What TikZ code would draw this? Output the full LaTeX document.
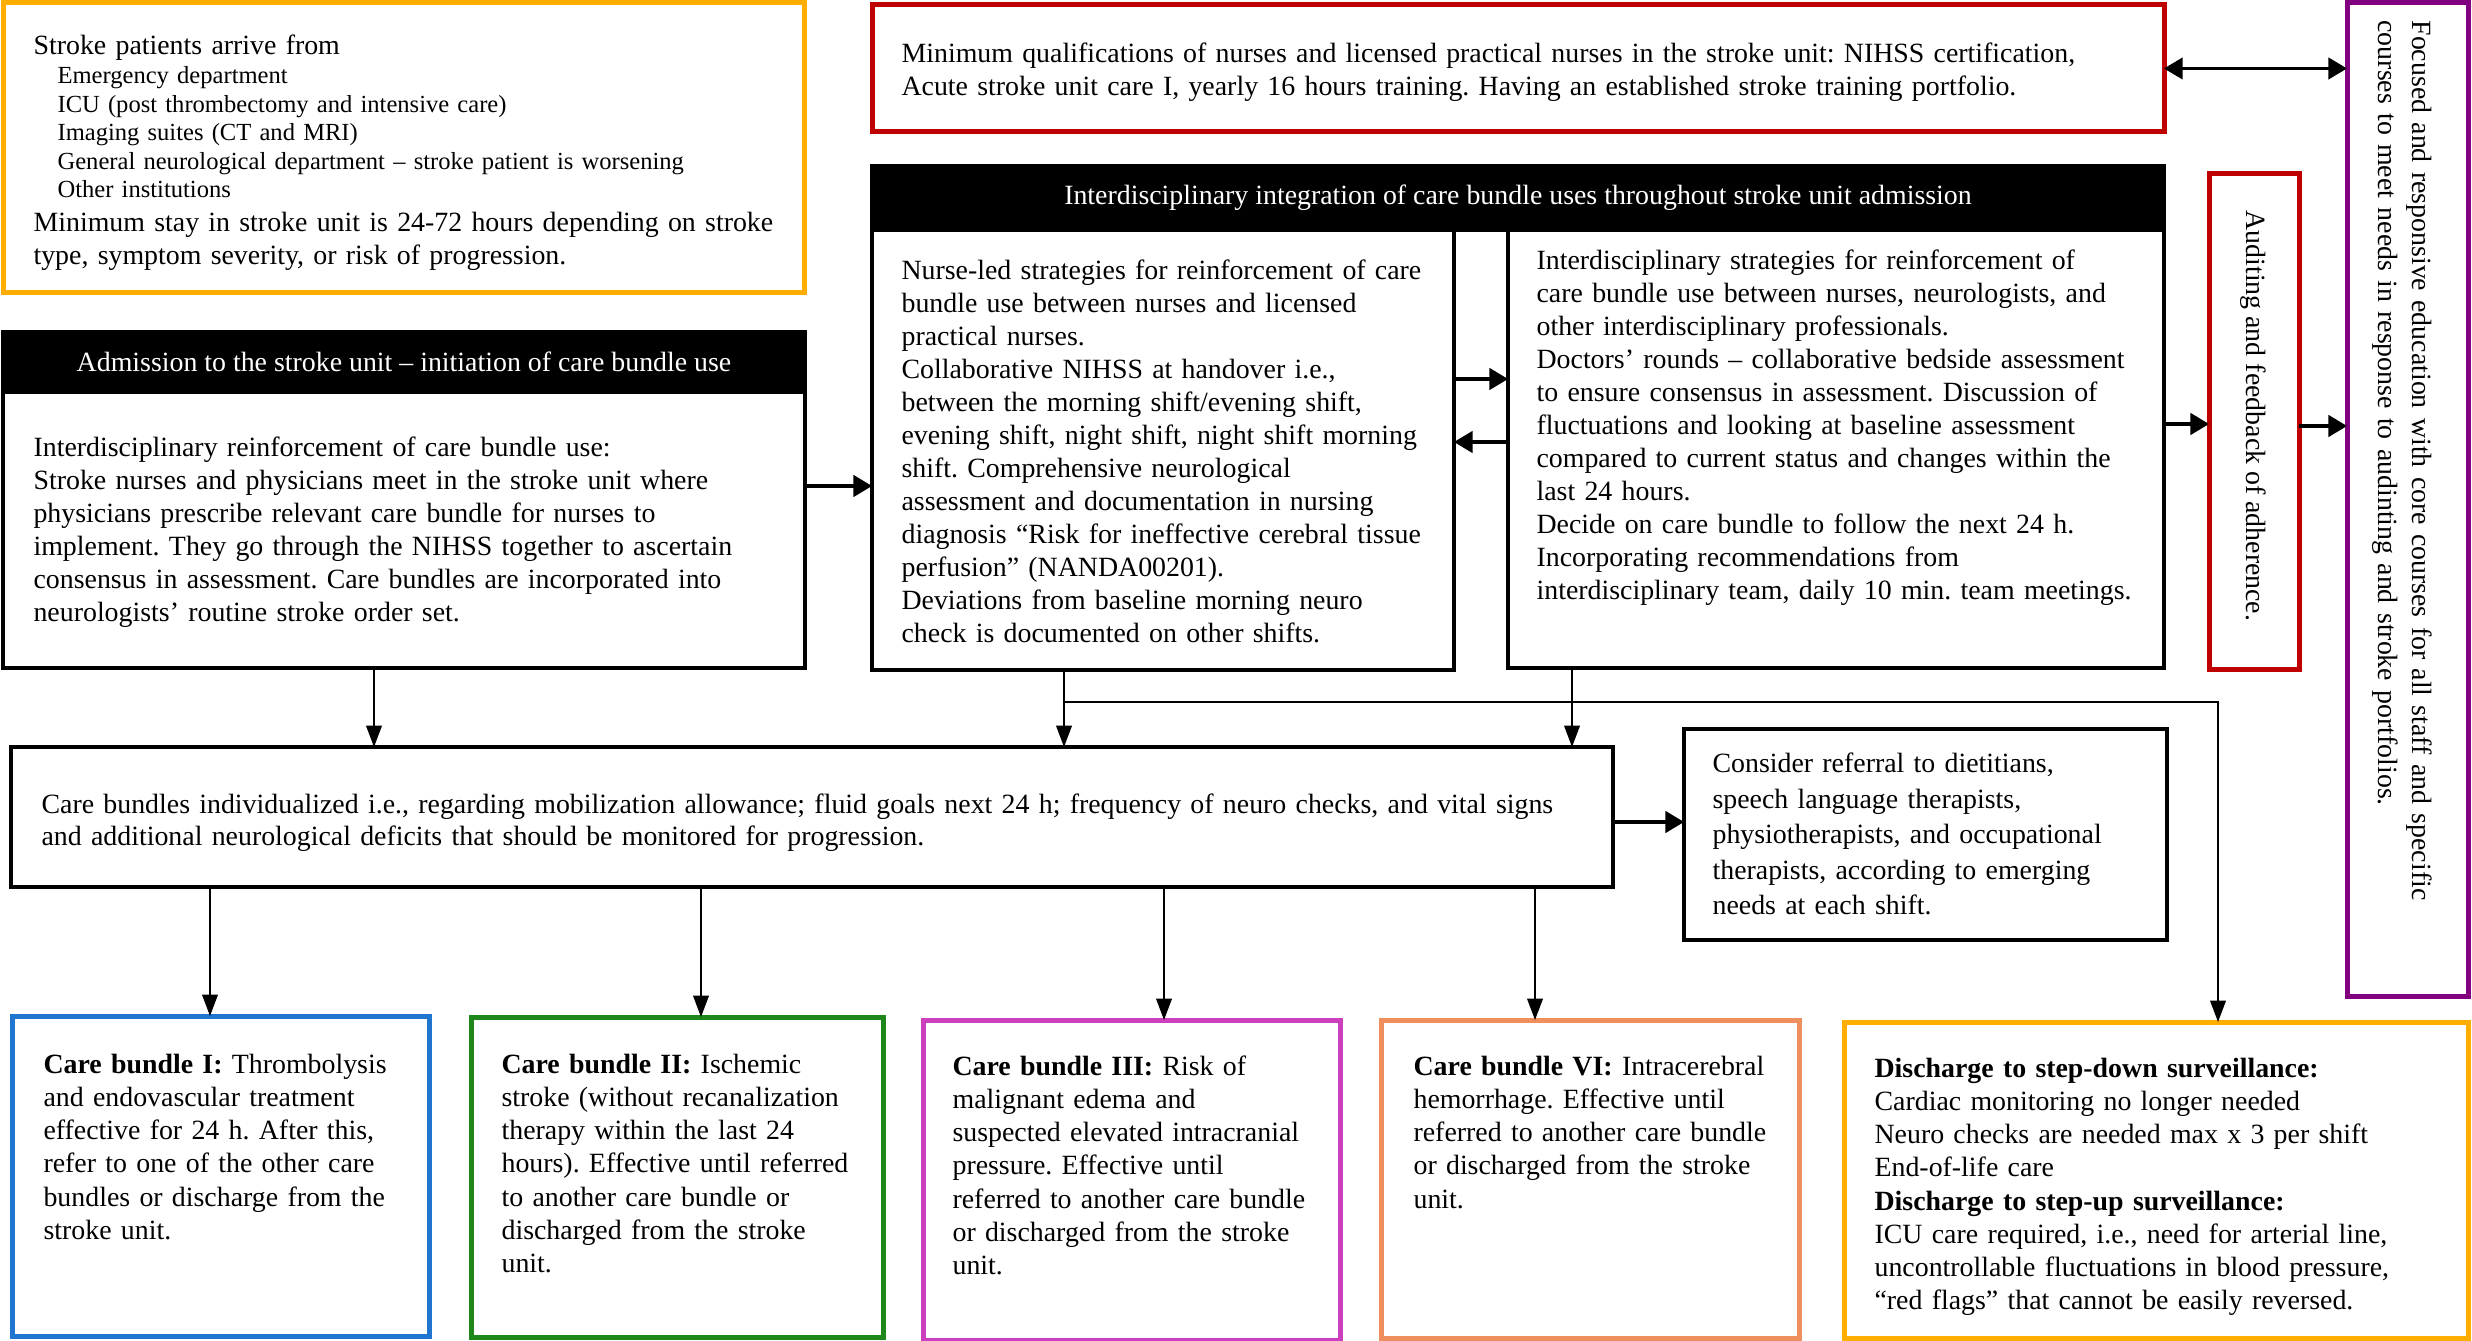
\documentclass[tikz,border=0pt]{standalone}
\usepackage{fontspec}
\setmainfont{Liberation Serif}
\usetikzlibrary{arrows.meta,positioning}
\definecolor{stkorange}{RGB}{255,174,0}
\definecolor{stkred}{RGB}{190,0,0}
\definecolor{stkpurple}{RGB}{128,0,128}
\definecolor{cbblue}{RGB}{31,117,208}
\definecolor{cbgreen}{RGB}{30,135,25}
\definecolor{cbmagenta}{RGB}{204,64,192}
\definecolor{cbsalmon}{RGB}{240,143,94}
\frenchspacing
\tikzset{
  panel/.style={draw, line width=1.4pt, anchor=north west, inner sep=0pt, outer sep=0pt},
  colpanel/.style={panel, draw=#1, line width=1.75pt},
  headbar/.style={panel, fill=black, text=white, font=\fontsize{9.75}{11.55}\selectfont},
  txt/.style={anchor=base west, align=left, text width=600pt, inner sep=0pt, font=\fontsize{9.75}{11.55}\selectfont},
  link/.style={-{Triangle[length=7.5pt,width=5.5pt]}, line width=0.6pt},
  flow/.style={-{Triangle[length=6.5pt,width=7.5pt]}, line width=1.1pt},
  both/.style={{Triangle[length=6.5pt,width=7.5pt]}-{Triangle[length=6.5pt,width=7.5pt]}, line width=0.9pt}
}
\begin{document}
\begin{tikzpicture}[x=0.35pt, y=-0.35pt]
\useasboundingbox (0,0) rectangle (2472,1341);

% where patients come from
\node[colpanel=stkorange, minimum width=280.7pt, minimum height=101.2pt] (arrive) at (3,3) {};
\node[txt] (arriveHead) at (33,55) {Stroke patients arrive from};
\node[txt, font=\fontsize{8.6}{9.97}\selectfont] (arriveList) at (57,84) {Emergency department\\
ICU (post thrombectomy and intensive care)\\
Imaging suites (CT and MRI)\\
General neurological department -- stroke patient is worsening\\
Other institutions};
\node[txt] (arriveStay) at (33,232) {Minimum stay in stroke unit is 24-72 hours depending on stroke\\
type, symptom severity, or risk of progression.};

% qualifications
\node[colpanel=stkred, minimum width=452.2pt, minimum height=44.45pt] (qual) at (872,5) {};
\node[txt] (qualText) at (901,63) {Minimum qualifications of nurses and licensed practical nurses in the stroke unit: NIHSS certification,\\
Acute stroke unit care I, yearly 16 hours training. Having an established stroke training portfolio.};

% integration throughout admission
\node[headbar, minimum width=452.2pt, minimum height=22.4pt] (integHead) at (872,166) {Interdisciplinary integration of care bundle uses throughout stroke unit admission};
\node[panel, minimum width=203.7pt, minimum height=154pt] (nurse) at (872,230) {};
\node[txt] (nurseText) at (901,280) {Nurse-led strategies for reinforcement of care\\
bundle use between nurses and licensed\\
practical nurses.\\
Collaborative NIHSS at handover i.e.,\\
between the morning shift/evening shift,\\
evening shift, night shift, night shift morning\\
shift. Comprehensive neurological\\
assessment and documentation in nursing\\
diagnosis “Risk for ineffective cerebral tissue\\
perfusion” (NANDA00201).\\
Deviations from baseline morning neuro\\
check is documented on other shifts.};
\node[panel, minimum width=229.6pt, minimum height=153.3pt] (inter) at (1508,230) {};
\node[txt] (interText) at (1536,270) {Interdisciplinary strategies for reinforcement of\\
care bundle use between nurses, neurologists, and\\
other interdisciplinary professionals.\\
Doctors’ rounds -- collaborative bedside assessment\\
to ensure consensus in assessment. Discussion of\\
fluctuations and looking at baseline assessment\\
compared to current status and changes within the\\
last 24 hours.\\
Decide on care bundle to follow the next 24 h.\\
Incorporating recommendations from\\
interdisciplinary team, daily 10 min. team meetings.};

% auditing and education
\node[colpanel=stkred, minimum width=31.5pt, minimum height=173.6pt] (audit) at (2209,174) {};
\node[rotate=-90, anchor=west, inner sep=0pt, font=\fontsize{9.75}{11.55}\selectfont] (auditText) at (2253,210) {Auditing and feedback of adherence.};
\node[colpanel=stkpurple, minimum width=42.35pt, minimum height=347.9pt] (educ) at (2347,3) {};
\node[txt, rotate=-90, font=\fontsize{9.75}{11.9}\selectfont] (educText) at (2412,20) {Focused and responsive education with core courses for all staff and specific\\
courses to meet needs in response to audinting and stroke portfolios.};

% admission
\node[headbar, minimum width=280.7pt, minimum height=21pt] (admHead) at (3,332) {Admission to the stroke unit -- initiation of care bundle use};
\node[panel, minimum width=280.7pt, minimum height=96.6pt] (adm) at (3,392) {};
\node[txt] (admText) at (33,457) {Interdisciplinary reinforcement of care bundle use:\\
Stroke nurses and physicians meet in the stroke unit where\\
physicians prescribe relevant care bundle for nurses to\\
implement. They go through the NIHSS together to ascertain\\
consensus in assessment. Care bundles are incorporated into\\
neurologists’ routine stroke order set.};

% individualized bundles and referral
\node[panel, minimum width=560.7pt, minimum height=49pt] (indiv) at (11,747) {};
\node[txt] (indivText) at (41,813) {Care bundles individualized i.e., regarding mobilization allowance; fluid goals next 24 h; frequency of neuro checks, and vital signs\\
and additional neurological deficits that should be monitored for progression.};
\node[panel, minimum width=169pt, minimum height=73.85pt] (refer) at (1684,729) {};
\node[txt, font=\fontsize{9.75}{12.4}\selectfont] (referText) at (1712,773) {Consider referral to dietitians,\\
speech language therapists,\\
physiotherapists, and occupational\\
therapists, according to emerging\\
needs at each shift.};

% care bundles
\node[colpanel=cbblue, minimum width=146pt, minimum height=112.3pt] (cb1) at (12,1016) {};
\node[txt, font=\fontsize{9.75}{11.65}\selectfont] (cb1Text) at (43,1073) {\textbf{Care bundle I:} Thrombolysis\\
and endovascular treatment\\
effective for 24 h. After this,\\
refer to one of the other care\\
bundles or discharge from the\\
stroke unit.};
\node[colpanel=cbgreen, minimum width=144.2pt, minimum height=112.3pt] (cb2) at (471,1017) {};
\node[txt, font=\fontsize{9.75}{11.65}\selectfont] (cb2Text) at (501,1073) {\textbf{Care bundle II:} Ischemic\\
stroke (without recanalization\\
therapy within the last 24\\
hours). Effective until referred\\
to another care bundle or\\
discharged from the stroke\\
unit.};
\node[colpanel=cbmagenta, minimum width=146pt, minimum height=112pt] (cb3) at (923,1020) {};
\node[txt, font=\fontsize{9.75}{11.65}\selectfont] (cb3Text) at (952,1075) {\textbf{Care bundle III:} Risk of\\
malignant edema and\\
suspected elevated intracranial\\
pressure. Effective until\\
referred to another care bundle\\
or discharged from the stroke\\
unit.};
\node[colpanel=cbsalmon, minimum width=146.6pt, minimum height=111.3pt] (cb4) at (1381,1020) {};
\node[txt, font=\fontsize{9.75}{11.65}\selectfont] (cb4Text) at (1413,1075) {\textbf{Care bundle VI:} Intracerebral\\
hemorrhage. Effective until\\
referred to another care bundle\\
or discharged from the stroke\\
unit.};
\node[colpanel=stkorange, minimum width=218.4pt, minimum height=110.6pt] (dis) at (1844,1022) {};
\node[txt, font=\fontsize{9.75}{11.65}\selectfont] (disText) at (1874,1077) {\textbf{Discharge to step-down surveillance:}\\
Cardiac monitoring no longer needed\\
Neuro checks are needed max x 3 per shift\\
End-of-life care\\
\textbf{Discharge to step-up surveillance:}\\
ICU care required, i.e., need for arterial line,\\
uncontrollable fluctuations in blood pressure,\\
“red flags” that cannot be easily reversed.};

% connectors
\draw[both] (qual.east) -- (qual.east -| educ.west);
\draw[flow] (adm.east |- 0,486) -- (nurse.west |- 0,486);
\draw[flow] (nurse.east |- 0,379) -- (inter.west |- 0,379);
\draw[flow] (inter.west |- 0,442) -- (nurse.east |- 0,442);
\draw[flow] (inter.east |- 0,424) -- (audit.west |- 0,424);
\draw[flow] (audit.east |- 0,426) -- (educ.west |- 0,426);
\draw[link] (adm.south -| 374,0) -- (indiv.north -| 374,0);
\draw[link] (nurse.south -| 1064,0) -- (indiv.north -| 1064,0);
\draw[link] (inter.south -| 1572,0) -- (indiv.north -| 1572,0);
\coordinate (split) at (1064,702);
\draw[link] (split) -| (dis.north -| 2218,0);
\draw[flow] (indiv.east |- 0,822) -- (refer.west |- 0,822);
\foreach \x/\b in {210/cb1,701/cb2,1164/cb3,1535/cb4}
  \draw[link] (indiv.south -| \x,0) -- (\b.north -| \x,0);

\end{tikzpicture}
\end{document}
